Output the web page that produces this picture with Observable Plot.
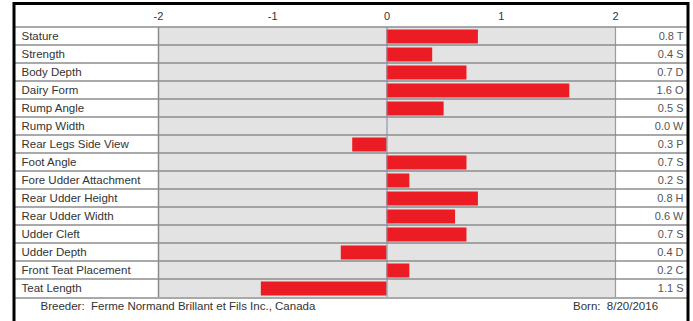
<!DOCTYPE html>
<html>
<head>
<meta charset="utf-8">
<script src="https://cdn.jsdelivr.net/npm/d3@7"></script>
<script src="https://cdn.jsdelivr.net/npm/@observablehq/plot@0.6"></script>
<style>
  html, body { margin: 0; padding: 0; background: #fff; }
  #chart svg { display: block; }
</style>
</head>
<body>
<div id="chart"></div>
<script>
const categories = ["Stature", "Strength", "Body Depth", "Dairy Form", "Rump Angle", "Rump Width",
  "Rear Legs Side View", "Foot Angle", "Fore Udder Attachment", "Rear Udder Height",
  "Rear Udder Width", "Udder Cleft", "Udder Depth", "Front Teat Placement", "Teat Length"];
const values = [0.8, 0.4, 0.7, 1.6, 0.5, 0.0, -0.3, 0.7, 0.2, 0.8, 0.6, 0.7, -0.4, 0.2, -1.1];
const valueLabels = ["0.8 T", "0.4 S", "0.7 D", "1.6 O", "0.5 S", "0.0 W", "0.3 P", "0.7 S",
  "0.2 S", "0.8 H", "0.6 W", "0.7 S", "0.4 D", "0.2 C", "1.1 S"];
const ticks = [-2, -1, 0, 1, 2];
const breederText = "Breeder:  Ferme Normand Brillant et Fils Inc., Canada";
const bornText = "Born:  8/20/2016";

const data = categories.map((c, i) => ({trait: c, value: values[i], label: valueLabels[i]}));
const last = categories[categories.length - 1];
const bw = (304 - 20) / categories.length;

const chart = Plot.plot({
  width: 693,
  height: 321,
  marginTop: 3,
  marginLeft: 13.5,
  marginRight: 5.5,
  marginBottom: -6,
  x: {domain: [-2, 2], range: [158, 615], axis: null},
  y: {domain: categories, range: [20, 304], padding: 0, axis: null},
  style: {fontFamily: "'Liberation Sans', Arial, sans-serif", background: "#fff"},
  marks: [
    Plot.barX(data, {x1: -2, x2: 2, y: "trait", fill: "#e3e3e3"}),
    Plot.barX(data, {x1: 0, x2: "value", y: "trait", fill: "#ec1c24", insetTop: 2.5, insetBottom: 1.5}),
    Plot.tickX(data, {x: () => 0, y: "trait", stroke: "#7f8ca0", strokeWidth: 1}),
    Plot.tickX(data, {x: () => -2, y: "trait", stroke: "#8a8a8a", strokeWidth: 1.5}),
    Plot.tickX(data, {x: () => 2, y: "trait", stroke: "#9a9a9a", strokeWidth: 1.2}),
    Plot.ruleY(data, {y: "trait", dy: -bw / 2, stroke: "#8c8c8c", strokeWidth: 1.6}),
    Plot.ruleY([last], {y: d => d, dy: bw / 2, stroke: "#8c8c8c", strokeWidth: 1.6}),
    Plot.text(ticks, {x: d => d, frameAnchor: "top", dy: 9, text: d => String(d), fontSize: 11, fill: "#333"}),
    Plot.text(data, {x: -2, y: "trait", dx: -137, text: "trait", textAnchor: "start", fontSize: 11.5, fill: "#333"}),
    Plot.text(data, {x: 2, y: "trait", dx: 68, text: "label", textAnchor: "end", fontSize: 11, fill: "#555"}),
    Plot.text([breederText], {x: -2, y: () => last, dy: bw - 1, dx: -118, text: d => d, textAnchor: "start", fontSize: 11.5, fill: "#333"}),
    Plot.text([bornText], {x: 2, y: () => last, dy: bw - 1, text: d => d, textAnchor: "middle", fontSize: 11.5, fill: "#333"}),
    Plot.frame({stroke: "#000", strokeWidth: 3})
  ]
});
document.getElementById("chart").appendChild(chart);
</script>
</body>
</html>
